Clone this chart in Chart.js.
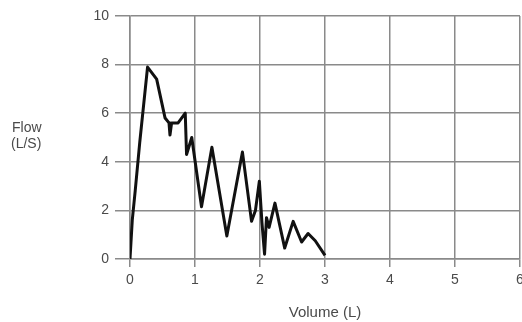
<!DOCTYPE html>
<html>
<head>
<meta charset="utf-8">
<script src="https://cdn.jsdelivr.net/npm/chart.js@4"></script>
<style>
  html, body { margin: 0; padding: 0; background: #fff; }
  #wrap { width: 522px; height: 322px; }
</style>
</head>
<body>
<div id="wrap"><canvas id="flowChart" width="522" height="322"></canvas></div>
<script>
// Дані кривої потік-об'єм
const volume = [0, 0.035, 0.08, 0.15, 0.27, 0.41, 0.54, 0.6, 0.615, 0.64, 0.74, 0.85, 0.87, 0.95, 1.1, 1.26, 1.49, 1.73, 1.87, 1.93, 1.99, 2.03, 2.07, 2.1, 2.14, 2.23, 2.38, 2.51, 2.64, 2.74, 2.85, 3.0];
const flow   = [0, 1.6, 2.8, 4.8, 7.9, 7.4, 5.8, 5.6, 5.1, 5.6, 5.6, 6.0, 4.3, 5.0, 2.15, 4.6, 0.95, 4.4, 1.55, 2.0, 3.2, 1.5, 0.2, 1.7, 1.3, 2.3, 0.45, 1.55, 0.7, 1.05, 0.75, 0.15];

const xTicks = [0, 1, 2, 3, 4, 5, 6];
const yTicks = [0, 2, 4, 6, 8, 10];

const GRID = '#8a8a8a';
const TEXT = '#4a4a4a';
const FONT = 'Liberation Sans, Arial, sans-serif';

// Підпис осі Y горизонтально зліва
const flowLabel = {
    id: 'flowLabel',
    afterDraw(chart) {
        const ctx = chart.ctx;
        ctx.save();
        ctx.fillStyle = TEXT;
        ctx.font = '14px ' + FONT;
        ctx.textAlign = 'left';
        ctx.textBaseline = 'middle';
        ctx.fillText('Flow', 12, 128);
        ctx.fillText('(L/S)', 11, 144);
        ctx.restore();
    }
};

const points = volume.map((v, i) => ({ x: v, y: flow[i] }));

new Chart(document.getElementById('flowChart'), {
    type: 'line',
    data: {
        datasets: [{
            data: points,
            borderColor: '#111',
            borderWidth: 3,
            borderJoinStyle: 'round',
            pointRadius: 0,
            tension: 0,
            fill: false
        }]
    },
    options: {
        responsive: false,
        animation: false,
        layout: { padding: { top: 16, right: 2, left: 0, bottom: 0 } },
        plugins: { legend: { display: false }, tooltip: { enabled: false } },
        scales: {
            x: {
                type: 'linear',
                min: 0,
                max: 6,
                afterBuildTicks: s => { s.ticks = xTicks.map(v => ({ value: v })); },
                afterFit: s => { s.height = 63; s.paddingRight = 0; },
                grid: { color: GRID, lineWidth: 1.5, tickLength: 8, drawTicks: true },
                border: { color: GRID, width: 1.5 },
                ticks: { color: TEXT, font: { family: FONT, size: 14 }, padding: 5 },
                title: {
                    display: true,
                    text: 'Volume (L)',
                    color: TEXT,
                    font: { family: FONT, size: 15 },
                    padding: { top: 12, bottom: 0 }
                }
            },
            y: {
                min: 0,
                max: 10,
                afterBuildTicks: s => { s.ticks = yTicks.map(v => ({ value: v })); },
                afterFit: s => { s.width = 130; },
                grid: { color: GRID, lineWidth: 1.5, tickLength: 15, drawTicks: true },
                border: { color: GRID, width: 1.5 },
                ticks: { color: TEXT, font: { family: FONT, size: 14 }, padding: 6 }
            }
        }
    },
    plugins: [flowLabel]
});
</script>
</body>
</html>
